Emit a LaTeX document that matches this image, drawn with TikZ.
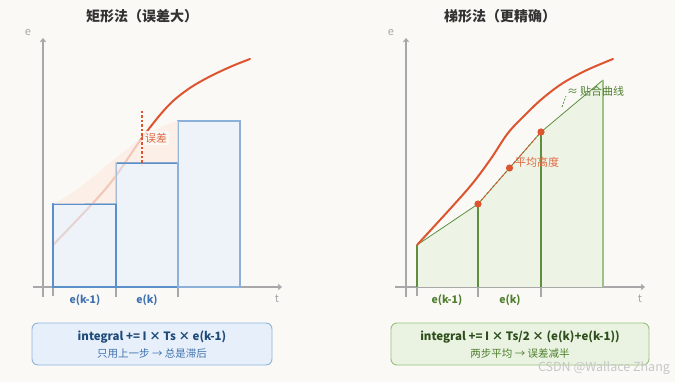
\documentclass[tikz,border=0pt]{standalone}
\usepackage{fontspec}
\setmainfont{Noto Sans CJK SC}
\usetikzlibrary{arrows.meta}
\definecolor{bgc}{HTML}{FAF9F6}
\definecolor{axisc}{HTML}{A8A8A8}
\definecolor{redc}{HTML}{DD5530}
\definecolor{errtxt}{HTML}{E06A45}
\definecolor{errfillc}{HTML}{FCECE4}
\definecolor{bluestroke}{HTML}{5B8FC9}
\definecolor{bluestrokeL}{HTML}{8DB0DA}
\definecolor{bluefill}{HTML}{EAF2FA}
\definecolor{bluetxt}{HTML}{3F72AF}
\definecolor{bluedark}{HTML}{1E4A7A}
\definecolor{boxbfill}{HTML}{E7F0FA}
\definecolor{boxbstroke}{HTML}{8DB3DE}
\definecolor{greenstroke}{HTML}{5E8F3E}
\definecolor{greenstrokeL}{HTML}{9CC286}
\definecolor{greenfill}{HTML}{EDF4E5}
\definecolor{greentxt}{HTML}{4F7F2F}
\definecolor{greendark}{HTML}{2E4F1C}
\definecolor{boxgfill}{HTML}{EAF3E1}
\definecolor{boxgstroke}{HTML}{96C07A}
\definecolor{titlec}{HTML}{333333}
\begin{document}
\begin{tikzpicture}[x=1pt,y=-1pt,
  charttitle/.style={font=\fontsize{14}{16}\selectfont\bfseries, text=titlec, inner sep=0pt},
  axlab/.style={font=\fontsize{11}{13}\selectfont, text=axisc, inner sep=0pt},
  axisline/.style={draw=axisc, line width=1.2pt},
  axisarrow/.style={axisline, -{Straight Barb[length=3pt,width=5pt]}},
  curveline/.style={draw=redc, line width=2pt, line cap=round},
  rectbox/.style={draw=bluestroke, line width=1.1pt, fill=bluefill, fill opacity=0.8},
  ticklab/.style={font=\fontsize{10.5}{12}\selectfont\bfseries, inner sep=0pt},
  notelab/.style={font=\fontsize{11}{13}\selectfont, inner sep=0pt},
  trapfill/.style={fill=greenfill},
  gline/.style={draw=greenstroke, line width=1.1pt},
  reddot/.style={fill=redc},
  infobox/.style={rounded corners=6pt, line width=0.9pt},
  boxmain/.style={font=\fontsize{11.5}{14}\selectfont\bfseries, inner sep=0pt},
  boxsub/.style={font=\fontsize{10.5}{12}\selectfont, inner sep=0pt}
]
\fill[bgc] (0,0) rectangle (675,382);
\useasboundingbox (0,0) rectangle (675,382);

% ===== Left chart =====
\node[charttitle] (t1) at (142,16) {矩形法（误差大）};
\node[axlab] (e1) at (28,33) {e};
\node[axlab] (tt1) at (277,299) {t};
\draw[axisarrow] (43,297) -- (43,38);
\draw[axisarrow] (33,287) -- (282,287);
\draw[axisline] (53,287) -- (53,296);
\draw[axisline] (116,287) -- (116,297);
\draw[axisline] (178,287) -- (178,297);

\draw[curveline] plot[smooth, tension=0.6] coordinates {(53,245) (93,203) (115,177) (142,138) (167,107) (187,90) (207,78) (230,67) (250,59)};

\draw[rectbox] (53,204) rectangle (116,287);
\draw[rectbox] (116,163) rectangle (178,287);
\draw[rectbox, draw=bluestrokeL] (178,121) rectangle (240,287);

\fill[errfillc, fill opacity=0.75] (53,204) .. controls (95,184) and (132,133) .. (178,121) -- (178,162.5) -- (116.5,162.5) -- (116.5,203.5) -- cycle;

\node[notelab, text=errtxt, fill=bgc, fill opacity=0.9, text opacity=1, anchor=west, inner sep=2pt] (err) at (143,138) {误差};
\draw[redc, line width=1.1pt, dash pattern=on 2.5pt off 2pt] (142,111) -- (142,165);

\node[ticklab, text=bluetxt] (l1) at (85,300) {e(k-1)};
\node[ticklab, text=bluetxt] (l2) at (147,300) {e(k)};

\node[draw=boxbstroke, fill=boxbfill, infobox, minimum width=240pt, minimum height=42pt] (b1) at (152,344) {};
\node[boxmain, text=bluedark] (b1a) at (152,337) {integral += I × Ts × e(k-1)};
\node[boxsub, text=bluetxt] (b1b) at (152,354) {只用上一步 → 总是滞后};

% ===== Right chart =====
\node[charttitle] (t2) at (500,16) {梯形法（更精确）};
\node[axlab] (e2) at (391,33) {e};
\node[axlab] (tt2) at (640,299) {t};
\draw[axisarrow] (406,297) -- (406,38);
\draw[axisarrow] (395,287) -- (645,287);
\draw[axisline] (417,287) -- (417,296);
\draw[axisline] (478,287) -- (478,297);
\draw[axisline] (541,287) -- (541,297);

\fill[trapfill] (417,287) -- (417,245) -- (478,204) -- (541,132) -- (603,80) -- (603,287) -- cycle;
\draw[greenstroke, line width=0.8pt] (417,245) -- (478,204) -- (541,132) -- (603,80);
\draw[gline] (417,245) -- (417,287);
\draw[gline] (478,204) -- (478,287);
\draw[gline] (541,132) -- (541,287);
\draw[gline, draw=greenstrokeL, line width=1.5pt] (603,80) -- (603,287);

\draw[curveline] plot[smooth, tension=0.55] coordinates {(417,245) (467,190) (490,160) (508,133) (527,113) (543,98) (563,83) (587,70) (613,59)};

\draw[redc, line width=1pt, dash pattern=on 2.5pt off 2pt] (478,204) -- (541,132);
\fill[reddot] (478,204) circle (3.6);
\fill[reddot] (541,132) circle (3.6);
\fill[reddot] (509.5,168) circle (3.6);

\node[notelab, text=errtxt, anchor=west] (avg) at (515,162) {平均高度};
\node[notelab, text=greentxt, anchor=west] (fit) at (567,91) {≈\,贴合曲线};
\draw[greenstroke, line width=0.8pt, dash pattern=on 2pt off 1.5pt] (562,107) -- (566,96);

\node[ticklab, text=greentxt] (r1) at (447,300) {e(k-1)};
\node[ticklab, text=greentxt] (r2) at (510,300) {e(k)};

\node[draw=boxgstroke, fill=boxgfill, infobox, minimum width=258pt, minimum height=42pt] (b2) at (520,344) {};
\node[boxmain, text=greendark] (b2a) at (520,337) {integral += I × Ts/2 × (e(k)+e(k-1))};
\node[boxsub, text=greentxt] (b2b) at (520,354) {两步平均 → 误差减半};

% watermark
\node[font=\fontsize{12.5}{14}\selectfont, text=black!22, inner sep=0pt] (wm) at (604,368) {CSDN @Wallace Zhang};
\end{tikzpicture}
\end{document}
